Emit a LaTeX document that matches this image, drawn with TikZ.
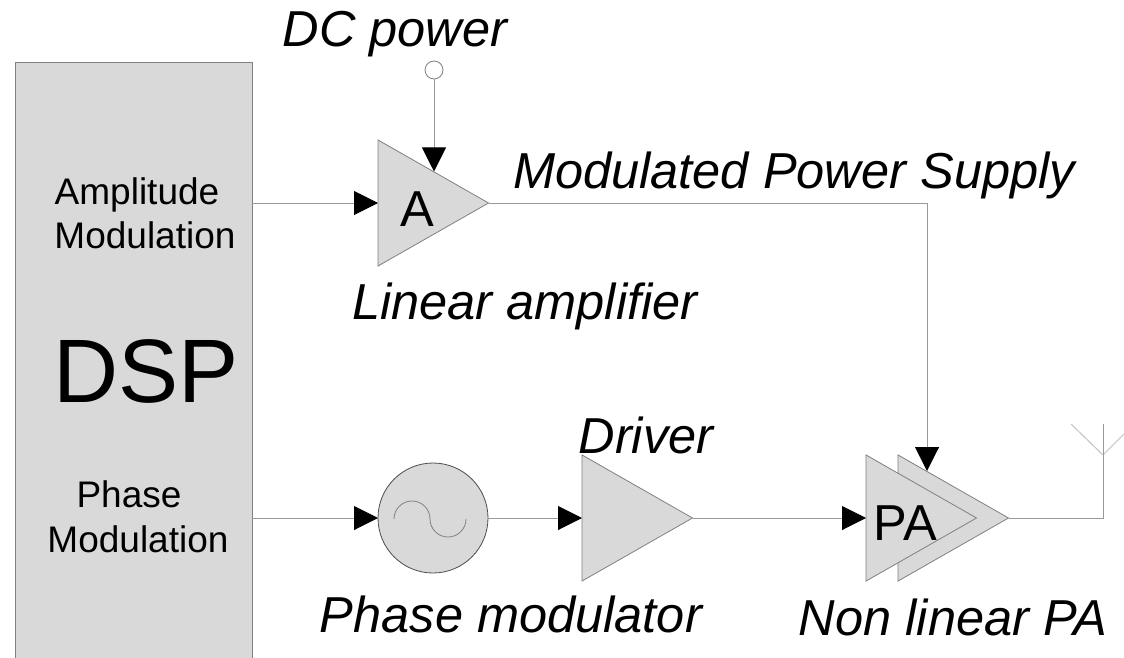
\documentclass[tikz,border=0pt]{standalone}
\usepackage{fontspec}
\setmainfont{Liberation Sans}
\usetikzlibrary{arrows.meta, shapes.geometric}
\definecolor{blockgray}{HTML}{D9D9D9}
\definecolor{linegray}{HTML}{999999}
\tikzset{
	>={Triangle[length=18pt, width=18pt, color=black]},
	every node/.style={inner sep=0pt, outer sep=0pt},
	wire/.style={draw=linegray, line width=0.75pt},
	amp/.style={isosceles triangle, isosceles triangle apex angle=59.4, minimum height=82.9pt,
		fill=blockgray, draw=gray, line width=0.6pt},
	caption/.style={anchor=base, font=\fontsize{37.9}{40}\selectfont\itshape},
	small/.style={anchor=base, font=\fontsize{27.75}{30}\selectfont},
	inamp/.style={anchor=base, font=\fontsize{37.9}{40}\selectfont}
}

\begin{document}
\begin{tikzpicture}[x=0.75pt, y=-0.75pt]
	\useasboundingbox (0,0) rectangle (1124,657);
	\node[draw=gray, fill=blockgray, line width=0.6pt, minimum width=177.75pt, minimum height=448.5pt, anchor=north west] (dsp) at (15,62) {};
	\node[anchor=base, font=\fontsize{67.6}{70}\selectfont] (dsplabel) at (146,402) {DSP};
	\node[small] (amlabel) at (137,204) {Amplitude};
	\node[small] (amlabel2) at (145,248) {Modulation};
	\node[small] (pmlabel) at (129,507) {Phase};
	\node[small] (pmlabel2) at (138,552) {Modulation};

	\node[amp, anchor=lower side] (linamp) at (378,203) {};
	\node[inamp] (linamplabel) at (417,226) {A};
	\node[circle, draw=gray, fill=white, line width=0.6pt, minimum size=13.5pt] (dcpower) at (434,70) {};

	\node[circle, draw=black!70, fill=blockgray, line width=0.6pt, minimum size=82.5pt] (osc) at (433,518) {};
	\node[amp, anchor=lower side] (driver) at (582,518) {};

	\node[amp, anchor=lower side] (paback) at (898,518) {};
	\node[amp, anchor=lower side] (pafront) at (866,518) {};
	\node[inamp] (palabel) at (905,540) {PA};

	\coordinate (paIn) at (927,471);
	\coordinate (antenna) at (1103,455);
	\coordinate (antennaL) at (1071,424);
	\coordinate (antennaM) at (1103,424);
	\coordinate (antennaR) at (1124,434);
	\coordinate (amIn) at (dsp.east |- linamp.lower side);
	\coordinate (pmIn) at (dsp.east |- osc);

	\draw[wire, ->] (dcpower.south) -- (dcpower.south |- linamp.left side);
	\draw[wire, ->] (amIn) -- (linamp.lower side);
	\draw[wire, ->] (linamp.apex) -| (paIn);
	\draw[wire, ->] (pmIn) -- (osc.west);
	\draw[wire, ->] (osc.east) -- (driver.lower side);
	\draw[wire, ->] (driver.apex) -- (pafront.lower side);
	\draw[wire] (paback.apex) -| (antenna);
	\draw[wire, draw=linegray!60] (antennaL) -- (antenna) -- (antennaR);
	\draw[wire] (antennaM) -- (antenna);

	% sine inside the oscillator
	\draw[draw=gray, line width=0.6pt] (394,519) arc[start angle=180, end angle=0, radius=13.5pt]
		arc[start angle=180, end angle=360, radius=13.5pt];

	\node[caption] (dclabel) at (395,46) {DC power};
	\node[caption] (supplylabel) at (794,188) {Modulated Power Supply};
	\node[caption] (linearlabel) at (525,319) {Linear amplifier};
	\node[caption] (driverlabel) at (646,453) {Driver};
	\node[caption] (phaselabel) at (511,632) {Phase modulator};
	\node[caption] (nonlinlabel) at (953,635) {Non linear PA};
\end{tikzpicture}
\end{document}
